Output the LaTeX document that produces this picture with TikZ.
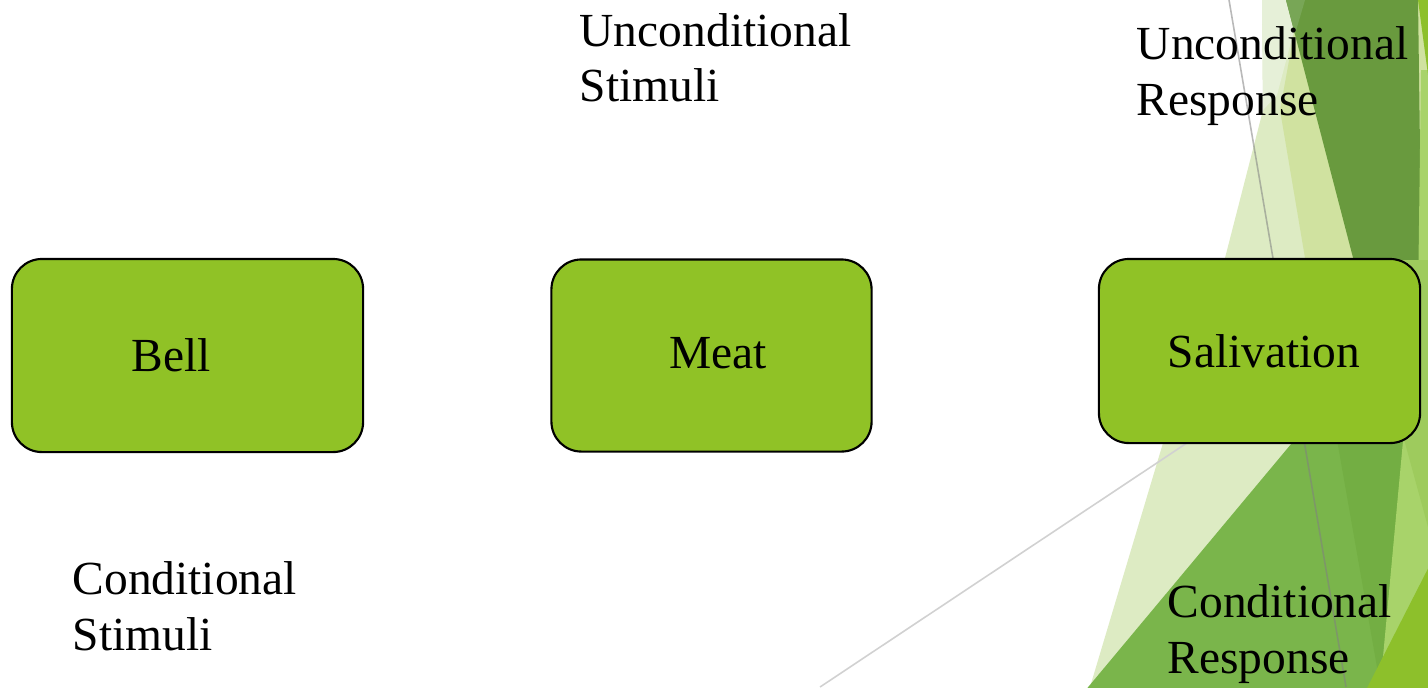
\documentclass[tikz,border=0pt]{standalone}
\usepackage{fontspec}
\setmainfont{Liberation Serif}
\definecolor{boxgreen}{HTML}{90C226}
\definecolor{lightA}{HTML}{DDEBC3}
\definecolor{vlight}{HTML}{E6F0D8}
\definecolor{mlight}{HTML}{D0E2A0}
\definecolor{darkD}{HTML}{699A3E}
\definecolor{sliver}{HTML}{78A656}
\definecolor{brightG}{HTML}{8DC02B}
\definecolor{lgreen}{HTML}{A8D36A}
\definecolor{lgsub}{HTML}{9ECB5D}
\definecolor{mgreen}{HTML}{7AB54B}
\definecolor{mband}{HTML}{73AE43}
\begin{document}
\begin{tikzpicture}[x=0.01cm,y=-0.01cm,
  box/.style={draw=black, line width=0.6pt, fill=boxgreen, rounded corners=0.3cm,
    inner sep=0pt, font=\fontsize{13.5}{15.8}\selectfont},
  lbl/.style={anchor=base west, align=left, inner sep=0pt,
    font=\fontsize{13.5}{15.8}\selectfont}]
\useasboundingbox (0,0) rectangle (1428,687);
% background facets
\begin{scope}
\clip (0,0) rectangle (1428,687);
\fill[white] (0,0) rectangle (1428,687);
\fill[lightA] (1262,0) -- (1440,0) -- (1440,700) -- (1086,700) -- (1090,687) -- (1163,443) -- (1225,258) -- (1263,110) -- cycle;
\fill[vlight] (1262,0) -- (1302,0) -- (1277,95) -- (1263,110) -- cycle;
\fill[mlight] (1300,0) -- (1440,0) -- (1440,300) -- (1312,300) -- (1305,258) -- (1280,110) -- cycle;
\fill[darkD] (1286,0) -- (1418,0) -- (1422,300) -- (1364,300) -- cycle;
\fill[sliver] (1286,0) -- (1305,0) -- (1295,34) -- cycle;
\fill[mgreen] (1084,692) -- (1332,395) -- (1410,395) -- (1410,700) -- cycle;
\fill[mband] (1330,400) -- (1410,400) -- (1381,690) -- cycle;
\fill[lgreen] (1421,70) -- (1440,70) -- (1440,700) -- (1379,700) -- (1404,430) -- (1418,300) -- cycle;
\fill[lgsub] (1355,260) -- (1440,260) -- (1440,535) -- (1428,527) -- cycle;
\fill[brightG] (1366,690) -- (1440,545) -- (1440,690) -- cycle;
\fill[brightG] (1418,0) -- (1440,0) -- (1440,75) -- (1428,75) -- cycle;
\draw[gray, opacity=0.55, line width=0.45pt] (1229,0) -- (1346,687);
\draw[black!18, line width=0.45pt] (820,687) -- (1250,401);
\end{scope}
% boxes
\node[box, minimum width=3.51cm, minimum height=1.93cm] (bell) at (187.5,355.5)
  {\raisebox{-0.025cm}{Bell}\kern0.32cm};
\node[box, minimum width=3.20cm, minimum height=1.92cm] (meat) at (711.5,355.5)
  {\kern0.13cm\raisebox{0.042cm}{Meat}};
\node[box, minimum width=3.21cm, minimum height=1.84cm] (saliv) at (1259.5,351)
  {\kern0.09cm Salivation};
% labels (base = baseline of the last line)
\node[lbl] (us) at (579,101.7) {Unconditional\\Stimuli};
\node[lbl] (ur) at (1136,115) {Unconditional\\Response};
\node[lbl] (cs) at (72,650) {Conditional\\Stimuli};
\node[lbl] (cr) at (1167,673.5) {Conditional\\Response};
\end{tikzpicture}
\end{document}
